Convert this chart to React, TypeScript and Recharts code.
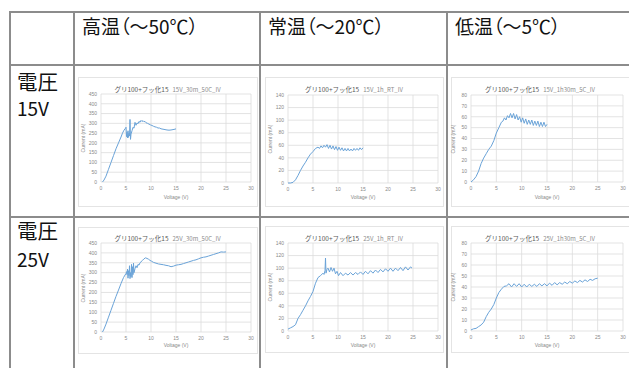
import React from "react";
import { LineChart, Line, XAxis, YAxis, CartesianGrid } from "recharts";

// ---- data ----
const headers = ["高温（～50℃）", "常温（～20℃）", "低温（～5℃）"];
const rowLabels = [["電圧", "15V"], ["電圧", "25V"]];
const titlesMain = "グリ100+フッ化15";
const titlesSub = ["15V_30m_50C_IV", "15V_1h_RT_IV", "15V_1h30m_5C_IV", "25V_30m_50C_IV", "25V_1h_RT_IV", "25V_1h30m_5C_IV"];

const xTicks = [0, 5, 10, 15, 20, 25, 30];
const yTicks450 = [0, 50, 100, 150, 200, 250, 300, 350, 400, 450];
const yTicks140 = [0, 20, 40, 60, 80, 100, 120, 140];
const yTicks80 = [0, 10, 20, 30, 40, 50, 60, 70, 80];

const v1 = [0.3,0.6,1,1.5,2,2.5,3,3.5,4,4.3,4.6,4.9,5.0,5.1,5.2,5.3,5.4,5.5,5.6,5.7,5.8,5.9,6.0,6.2,6.4,6.6,6.8,7.0,7.2,7.4,7.6,7.8,8.0,8.2,8.4,8.6,8.8,9.0,9.3,9.6,9.9,10.2,10.5,10.8,11.1,11.4,11.7,12.0,12.4,12.8,13.2,13.6,14.0,14.4,14.8,15.0];
const i1 = [0,10,30,65,100,135,170,200,230,250,265,275,280,232,255,225,262,228,250,235,320,218,245,262,280,275,305,290,302,298,310,305,315,309,314,308,310,303,300,296,292,289,285,282,280,276,276,272,270,268,266,265,266,268,270,272];

const v2 = [0,0.5,1,1.5,2,2.5,3,3.5,4,4.5,5,5.5,6,6.3,6.6,6.9,7.2,7.5,7.8,8.1,8.4,8.7,9.0,9.3,9.6,9.9,10.2,10.5,10.8,11.1,11.4,11.7,12.0,12.3,12.6,12.9,13.2,13.5,13.8,14.1,14.4,14.7,15.0];
const i2 = [0,0,1,5,12,20,27,33,40,46,50,55,57,55,59,56,60,57,61,55,60,54,59,53,58,52,57,52,56,51,55,51,55,51,54,51,55,52,55,52,56,53,56];

const v3 = [0,0.5,1,1.5,2,2.5,3,3.5,4,4.5,5,5.5,6,6.3,6.6,6.9,7.2,7.5,7.8,8.1,8.4,8.7,9.0,9.3,9.6,9.9,10.2,10.5,10.8,11.1,11.4,11.7,12.0,12.3,12.6,12.9,13.2,13.5,13.8,14.1,14.4,14.7,15.0];
const i3 = [0,2,5,10,17,22,26,30,33,38,45,50,55,56,59,57,61,59,63,59,63,58,62,57,60,55,59,54,58,53,57,53,57,52,56,52,56,51,55,51,55,51,53];

const v4 = [0.3,0.6,1,1.5,2,2.5,3,3.5,4,4.5,4.8,5.0,5.1,5.2,5.3,5.4,5.5,5.6,5.7,5.8,5.9,6.0,6.1,6.2,6.3,6.4,6.5,6.6,6.8,7.0,7.2,7.4,7.6,7.8,8.0,8.3,8.6,8.9,9.2,9.5,9.8,10.1,10.5,11,11.5,12,12.5,13,13.5,14,14.5,15,15.5,16,16.5,17,17.5,18,18.5,19,19.5,20,20.5,21,21.5,22,22.5,23,23.5,24,24.5,25];
const i4 = [0,15,40,75,110,145,180,212,245,275,288,295,305,290,318,272,310,285,335,270,300,280,342,275,330,290,348,300,320,335,325,342,338,350,355,362,370,375,372,368,362,358,352,348,344,342,340,337,335,330,333,338,340,342,346,350,354,358,362,365,370,375,378,380,384,388,392,396,400,405,404,405];

const v5 = [0,0.5,1,1.5,2,2.5,3,3.5,4,4.5,5,5.5,6,6.5,7,7.2,7.4,7.5,7.6,7.8,8,8.3,8.6,8.9,9.2,9.5,9.8,10.1,10.5,11,11.5,12,12.5,13,13.5,14,14.5,15,15.5,16,16.5,17,17.5,18,18.5,19,19.5,20,20.5,21,21.5,22,22.5,23,23.5,24,24.5,24.8];
const i5 = [3,5,7,10,20,26,33,40,48,55,63,76,85,88,92,90,96,116,92,98,100,94,101,95,100,91,95,88,93,88,92,89,93,89,93,90,94,90,95,91,96,92,97,93,98,94,99,95,100,95,100,96,101,96,102,97,102,100];

const v6 = [0,0.5,1,1.5,2,2.5,3,3.5,4,4.5,5,5.5,6,6.5,7,7.5,8,8.5,9,9.5,10,10.5,11,11.5,12,12.5,13,13.5,14,14.5,15,15.5,16,16.5,17,17.5,18,18.5,19,19.5,20,20.5,21,21.5,22,22.5,23,23.5,24,24.5,25];
const i6 = [1,2,2.4,4,5.5,8,13,17,20,24,30,35,38,40.5,41,43,40,43,40.5,43,40,42.5,40,42.5,40.5,42.5,40.5,43,41,43,41,43.5,41.5,44,42,44,42.5,44.5,43,45,43.5,45.5,44,46,44.5,46.5,45,47,46,47.5,48];

const toRows = (v: number[], c: number[]) => v.map((x, k) => ({ v: x, i: c[k] }));

type Panel = {
  frame: { x: number; y: number; w: number; h: number };
  plot: { x0: number; x1: number; y0: number; y1: number };
  yTicks: number[];
  data: { v: number; i: number }[];
  sub: string;
  titleY: number;
  xLabelY: number;
};

const FONT = "'Liberation Sans', 'Noto Sans CJK JP', sans-serif";
const CJK = "'Noto Sans CJK JP', sans-serif";

const panels: Panel[] = [
  { frame: { x: 78, y: 77, w: 179, h: 129 }, plot: { x0: 101, x1: 251, y0: 94, y1: 182 }, yTicks: yTicks450, data: toRows(v1, i1), sub: titlesSub[0], titleY: 85, xLabelY: 197 },
  { frame: { x: 265, y: 77, w: 178, h: 129 }, plot: { x0: 288, x1: 438, y0: 95, y1: 183 }, yTicks: yTicks140, data: toRows(v2, i2), sub: titlesSub[1], titleY: 85, xLabelY: 197 },
  { frame: { x: 451, y: 77, w: 178, h: 129 }, plot: { x0: 471, x1: 623, y0: 95, y1: 182 }, yTicks: yTicks80, data: toRows(v3, i3), sub: titlesSub[2], titleY: 85, xLabelY: 197 },
  { frame: { x: 78, y: 227, w: 179, h: 126 }, plot: { x0: 101, x1: 251, y0: 243, y1: 332 }, yTicks: yTicks450, data: toRows(v4, i4), sub: titlesSub[3], titleY: 234, xLabelY: 345 },
  { frame: { x: 265, y: 226, w: 178, h: 126 }, plot: { x0: 288, x1: 438, y0: 243, y1: 331 }, yTicks: yTicks140, data: toRows(v5, i5), sub: titlesSub[4], titleY: 234, xLabelY: 345 },
  { frame: { x: 451, y: 226, w: 178, h: 126 }, plot: { x0: 471, x1: 623, y0: 243, y1: 331 }, yTicks: yTicks80, data: toRows(v6, i6), sub: titlesSub[5], titleY: 234, xLabelY: 345 },
];

const Y_W = 20;
const X_H = 14;

function PanelChart({ p }: { p: Panel }) {
  const { frame, plot } = p;
  const margin = {
    top: plot.y0 - frame.y,
    right: frame.x + frame.w - plot.x1,
    bottom: frame.y + frame.h - plot.y1 - X_H,
    left: plot.x0 - frame.x - Y_W,
  };
  const yMax = p.yTicks[p.yTicks.length - 1];
  const tick = { fontSize: 5, fill: "#8a8a8a", fontFamily: FONT };
  return (
    <>
      <div style={{ position: "absolute", left: frame.x, top: frame.y, width: frame.w - 1, height: frame.h - 1, border: "1px solid #e4e4e4", background: "#fff" }} />
      <div style={{ position: "absolute", left: frame.x, top: frame.y }}>
        <LineChart width={frame.w} height={frame.h} data={p.data} margin={margin}>
          <CartesianGrid stroke="#dcdcdc" strokeWidth={0.8} />
          <XAxis type="number" dataKey="v" domain={[0, 30]} ticks={xTicks} axisLine={false} tickLine={false} tickSize={2} tickMargin={2} height={X_H} tick={tick} interval={0} />
          <YAxis type="number" domain={[0, yMax]} ticks={p.yTicks} axisLine={false} tickLine={false} tickSize={2} tickMargin={2} width={Y_W} tick={tick} interval={0} />
          <Line type="linear" dataKey="i" stroke="#6aa3d8" strokeWidth={1} dot={false} isAnimationActive={false} />
        </LineChart>
      </div>
      <div style={{ position: "absolute", left: frame.x + frame.w / 2, top: p.titleY, transform: "translate(-50%,-50%)", whiteSpace: "nowrap", fontFamily: CJK, lineHeight: 1 }}>
        <span style={{ fontSize: 6.5, color: "#595959" }}>{titlesMain}</span>
        <span style={{ fontSize: 6, color: "#8c8c8c", marginLeft: 4 }}>{p.sub}</span>
      </div>
      <div style={{ position: "absolute", left: (plot.x0 + plot.x1) / 2, top: p.xLabelY, transform: "translate(-50%,-50%)", whiteSpace: "nowrap", fontFamily: FONT, fontSize: 5, color: "#8a8a8a", lineHeight: 1 }}>
        Voltage (V)
      </div>
      <div style={{ position: "absolute", left: plot.x0 - 18, top: (plot.y0 + plot.y1) / 2, transform: "translate(-50%,-50%) rotate(-90deg)", whiteSpace: "nowrap", fontFamily: FONT, fontSize: 5, color: "#8a8a8a", lineHeight: 1 }}>
        Current (mA)
      </div>
    </>
  );
}

const LINE = "#8c8c8c";

export default function App() {
  const colX = [73, 259, 446];
  const rowY = [64, 216];
  return (
    <div style={{ position: "absolute", left: 0, top: 0, width: 629, height: 368, overflow: "hidden", background: "#fff" }}>
      {/* table lines */}
      <div style={{ position: "absolute", left: 9, top: 11, width: 620, height: 2, background: LINE }} />
      {rowY.map((y) => (
        <div key={y} style={{ position: "absolute", left: 9, top: y, width: 620, height: 2, background: LINE }} />
      ))}
      <div style={{ position: "absolute", left: 9, top: 11, width: 2, height: 357, background: LINE }} />
      {colX.map((x) => (
        <div key={x} style={{ position: "absolute", left: x, top: 11, width: 2, height: 357, background: LINE }} />
      ))}
      {/* headers */}
      {headers.map((h, k) => (
        <div key={h} style={{ position: "absolute", left: colX[k] + 9, top: 16, fontFamily: CJK, fontSize: 19, lineHeight: "19px", color: "#111", whiteSpace: "nowrap", fontFeatureSettings: "'palt'" }}>
          {h}
        </div>
      ))}
      {rowLabels.map((r, k) => (
        <React.Fragment key={k}>
          <div style={{ position: "absolute", left: 17, top: k === 0 ? 71 : 220, fontFamily: CJK, fontSize: 20.5, lineHeight: "20.5px", color: "#111" }}>{r[0]}</div>
          <div style={{ position: "absolute", left: 17, top: k === 0 ? 98 : 249, fontFamily: CJK, fontSize: 19, lineHeight: "19px", color: "#111" }}>{r[1]}</div>
        </React.Fragment>
      ))}
      {panels.map((p, k) => (
        <PanelChart key={k} p={p} />
      ))}
    </div>
  );
}
